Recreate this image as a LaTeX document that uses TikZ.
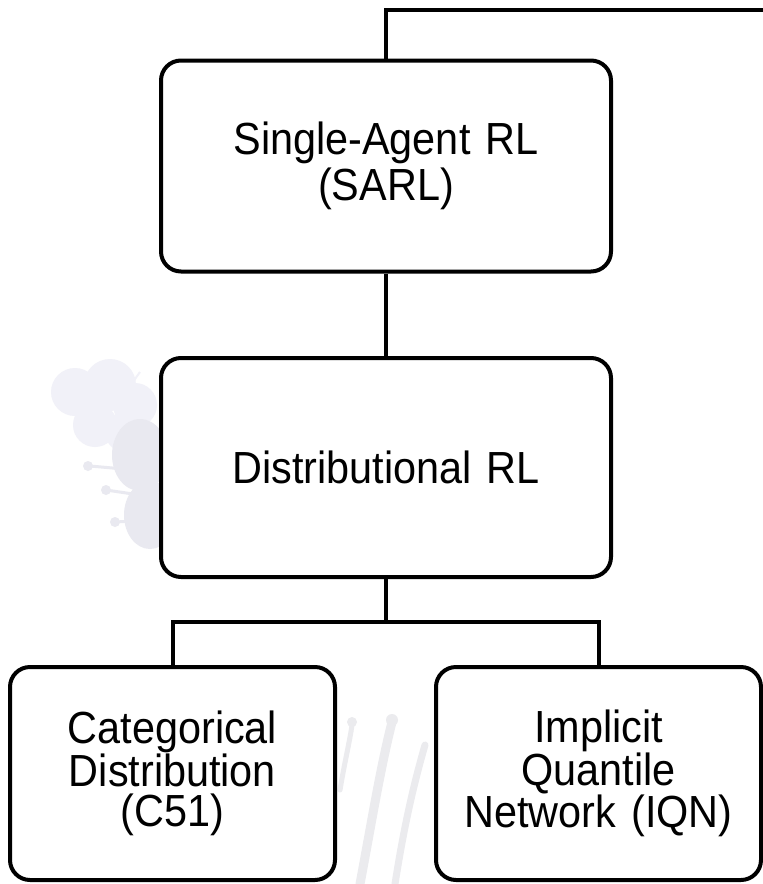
\documentclass[tikz,border=0pt]{standalone}
\usepackage{fontspec}
\setmainfont{Liberation Sans}
\newfontfamily\boxfont[FakeStretch=0.92]{Liberation Sans}
\definecolor{petal}{HTML}{F1F1F8}
\definecolor{petaldark}{HTML}{E9E9F0}
\definecolor{stem}{HTML}{EBEBEE}
\tikzset{
  box/.style={draw=black, fill=white, line width=4pt, rounded corners=20pt,
    align=center, inner sep=0pt},
  bigbox/.style={box, minimum width=450pt, text width=430pt,
    font=\boxfont\fontsize{45}{46}\selectfont},
  leafbox/.style={box, minimum width=325pt, minimum height=213pt, text width=300pt,
    font=\boxfont\fontsize{45}{40}\selectfont},
  link/.style={draw=black, line width=4pt, line join=miter}
}
\begin{document}
\begin{tikzpicture}[x=1pt, y=-1pt]
  \useasboundingbox (0,0) rectangle (763,884);
  \fill[white] (0,0) rectangle (763,884);

  % faint flower in the background, left of the middle box
  \begin{scope}
    \fill[petal] (75,392) circle (24);
    \fill[petal] (110,385) circle (26);
    \fill[petal] (135,405) circle (22);
    \fill[petal] (95,425) circle (22);
    \fill[petal] (125,432) circle (20);
    \fill[petaldark] (140,455) ellipse (28 and 36);
    \fill[petaldark] (150,515) ellipse (26 and 34);
    \draw[petal, line width=2pt] (100,400) -- (62,378);
    \draw[petal, line width=2pt] (120,400) -- (140,372);
    \draw[petaldark, line width=3pt] (135,470) -- (90,466);
    \draw[petaldark, line width=3pt] (140,495) -- (106,490);
    \draw[petaldark, line width=3pt] (148,520) -- (116,522);
    \fill[petaldark] (88,466) circle (5);
    \fill[petaldark] (106,490) circle (5);
    \fill[petaldark] (115,522) circle (5);
  \end{scope}

  % faint stems between the two lower boxes
  \begin{scope}
    \draw[stem, line width=9pt, line cap=round] (360,884) .. controls (372,820) and (380,770) .. (392,722);
    \draw[stem, line width=7pt, line cap=round] (395,884) .. controls (405,820) and (415,780) .. (425,745);
    \draw[stem, line width=5pt, line cap=round] (340,790) .. controls (345,760) and (350,740) .. (352,725);
    \fill[stem] (392,720) circle (6);
    \fill[stem] (352,722) circle (5);
  \end{scope}

  % boxes
  \node[bigbox, minimum height=211pt] (sarl) at (386,166) {Single-Agent RL\\(SARL)};
  \node[bigbox, minimum height=219pt] (dist) at (386,467.5) {Distributional RL};
  \node[leafbox] (c51) at (172.5,773.5) {Categorical\\Distribution\\(C51)};
  \node[leafbox] (iqn) at (598.5,773.5) {Implicit\\Quantile\\Network (IQN)};

  % connectors
  \coordinate (topend) at (766,10);
  \coordinate (split) at (386,622);
  \draw[link] (sarl.north) |- (topend);
  \draw[link] (sarl.south) -- (dist.north);
  \draw[link] (dist.south) -- (split);
  \draw[link] (c51.north) |- (split) -| (iqn.north);
\end{tikzpicture}
\end{document}
